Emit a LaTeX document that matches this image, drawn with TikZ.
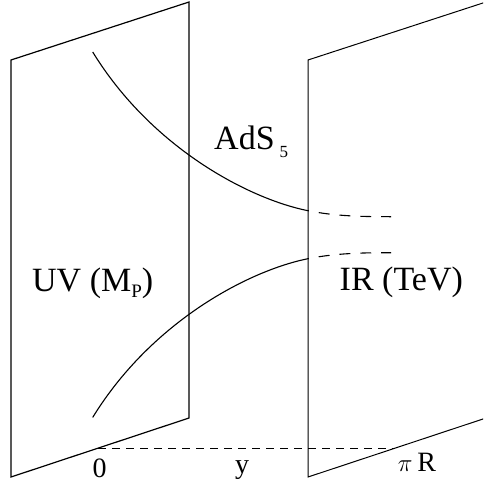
\documentclass[tikz,border=0pt]{standalone}
\usepackage{fontspec}
\setmainfont{Liberation Serif}
\usetikzlibrary{calc}
\tikzset{
    uvbrane/.style={draw=black, line width=1.2pt, line join=miter},
    irbrane/.style={draw=black, line width=1pt, line join=miter},
    warp/.style={draw=black, line width=1.1pt},
    warpdash/.style={warp, dash pattern=on 10.9pt off 10pt, dash phase=10pt},
    sepdash/.style={draw=black, line width=0.9pt, dash pattern=on 8pt off 6pt},
    branelbl/.style={font=\fontsize{34}{40}\selectfont, inner sep=0pt, anchor=base west},
    axislbl/.style={font=\fontsize{28}{32}\selectfont, inner sep=0pt, anchor=base},
}

\begin{document}
\begin{tikzpicture}[x=1pt, y=-1pt]
    \useasboundingbox (0,0) rectangle (483,487);
    \clip (0,0) rectangle (483,487);

    % branes
    \coordinate (uvtl) at (11,60);
    \coordinate (uvtr) at (189,2);
    \coordinate (uvbr) at (189,418);
    \coordinate (uvbl) at (11,477);
    \coordinate (irtl) at (308,60);
    \coordinate (irtr) at (486,2);
    \coordinate (irbr) at (486,418);
    \coordinate (irbl) at (308,477);
    \draw[uvbrane] (uvtl) -- (uvtr) -- (uvbr) -- (uvbl) -- cycle;
    \draw[irbrane] (irtl) -- (irtr) -- (irbr) -- (irbl) -- cycle;

    % warped curves
    \coordinate (upa) at (92.7,52);
    \coordinate (upb) at (308,210.7);
    \coordinate (upc) at (391,216.7);
    \coordinate (loa) at (92.7,417.4);
    \coordinate (lob) at (308,258.7);
    \coordinate (loc) at (391,252.7);
    \draw[warp] (upa) .. controls (151.7,148) and (249,198.9) .. (upb);
    \draw[warpdash] (upb) .. controls (336,216.3) and (363,216.7) .. (upc);
    \draw[warp] (loa) .. controls (151.7,321.4) and (249,270.5) .. (lob);
    \draw[warpdash] (lob) .. controls (336,253.1) and (363,252.7) .. (loc);

    % distance along y
    \coordinate (yzero) at ($(uvbl)!0.49!(uvbr)$);
    \coordinate (ypir) at ($(irbl)!0.49!(irbr)$);
    \draw[sepdash] (yzero) -- (ypir);

    \node[branelbl] (ads) at (214,149.5)
        {AdS\kern5pt\raisebox{-8pt}{\fontsize{17}{17}\selectfont 5}};
    \node[branelbl] (uv) at (32,291)
        {UV (M\raisebox{-6pt}{\fontsize{19}{19}\selectfont P})};
    \node[branelbl] (ir) at (339.5,290) {IR (TeV)};
    \node[axislbl] (zero) at (99.5,477) {0};
    \node[axislbl] (ylbl) at (242,473) {y};
    \node[axislbl] (pir) at (417,471) {$\pi$\,R};
\end{tikzpicture}
\end{document}
